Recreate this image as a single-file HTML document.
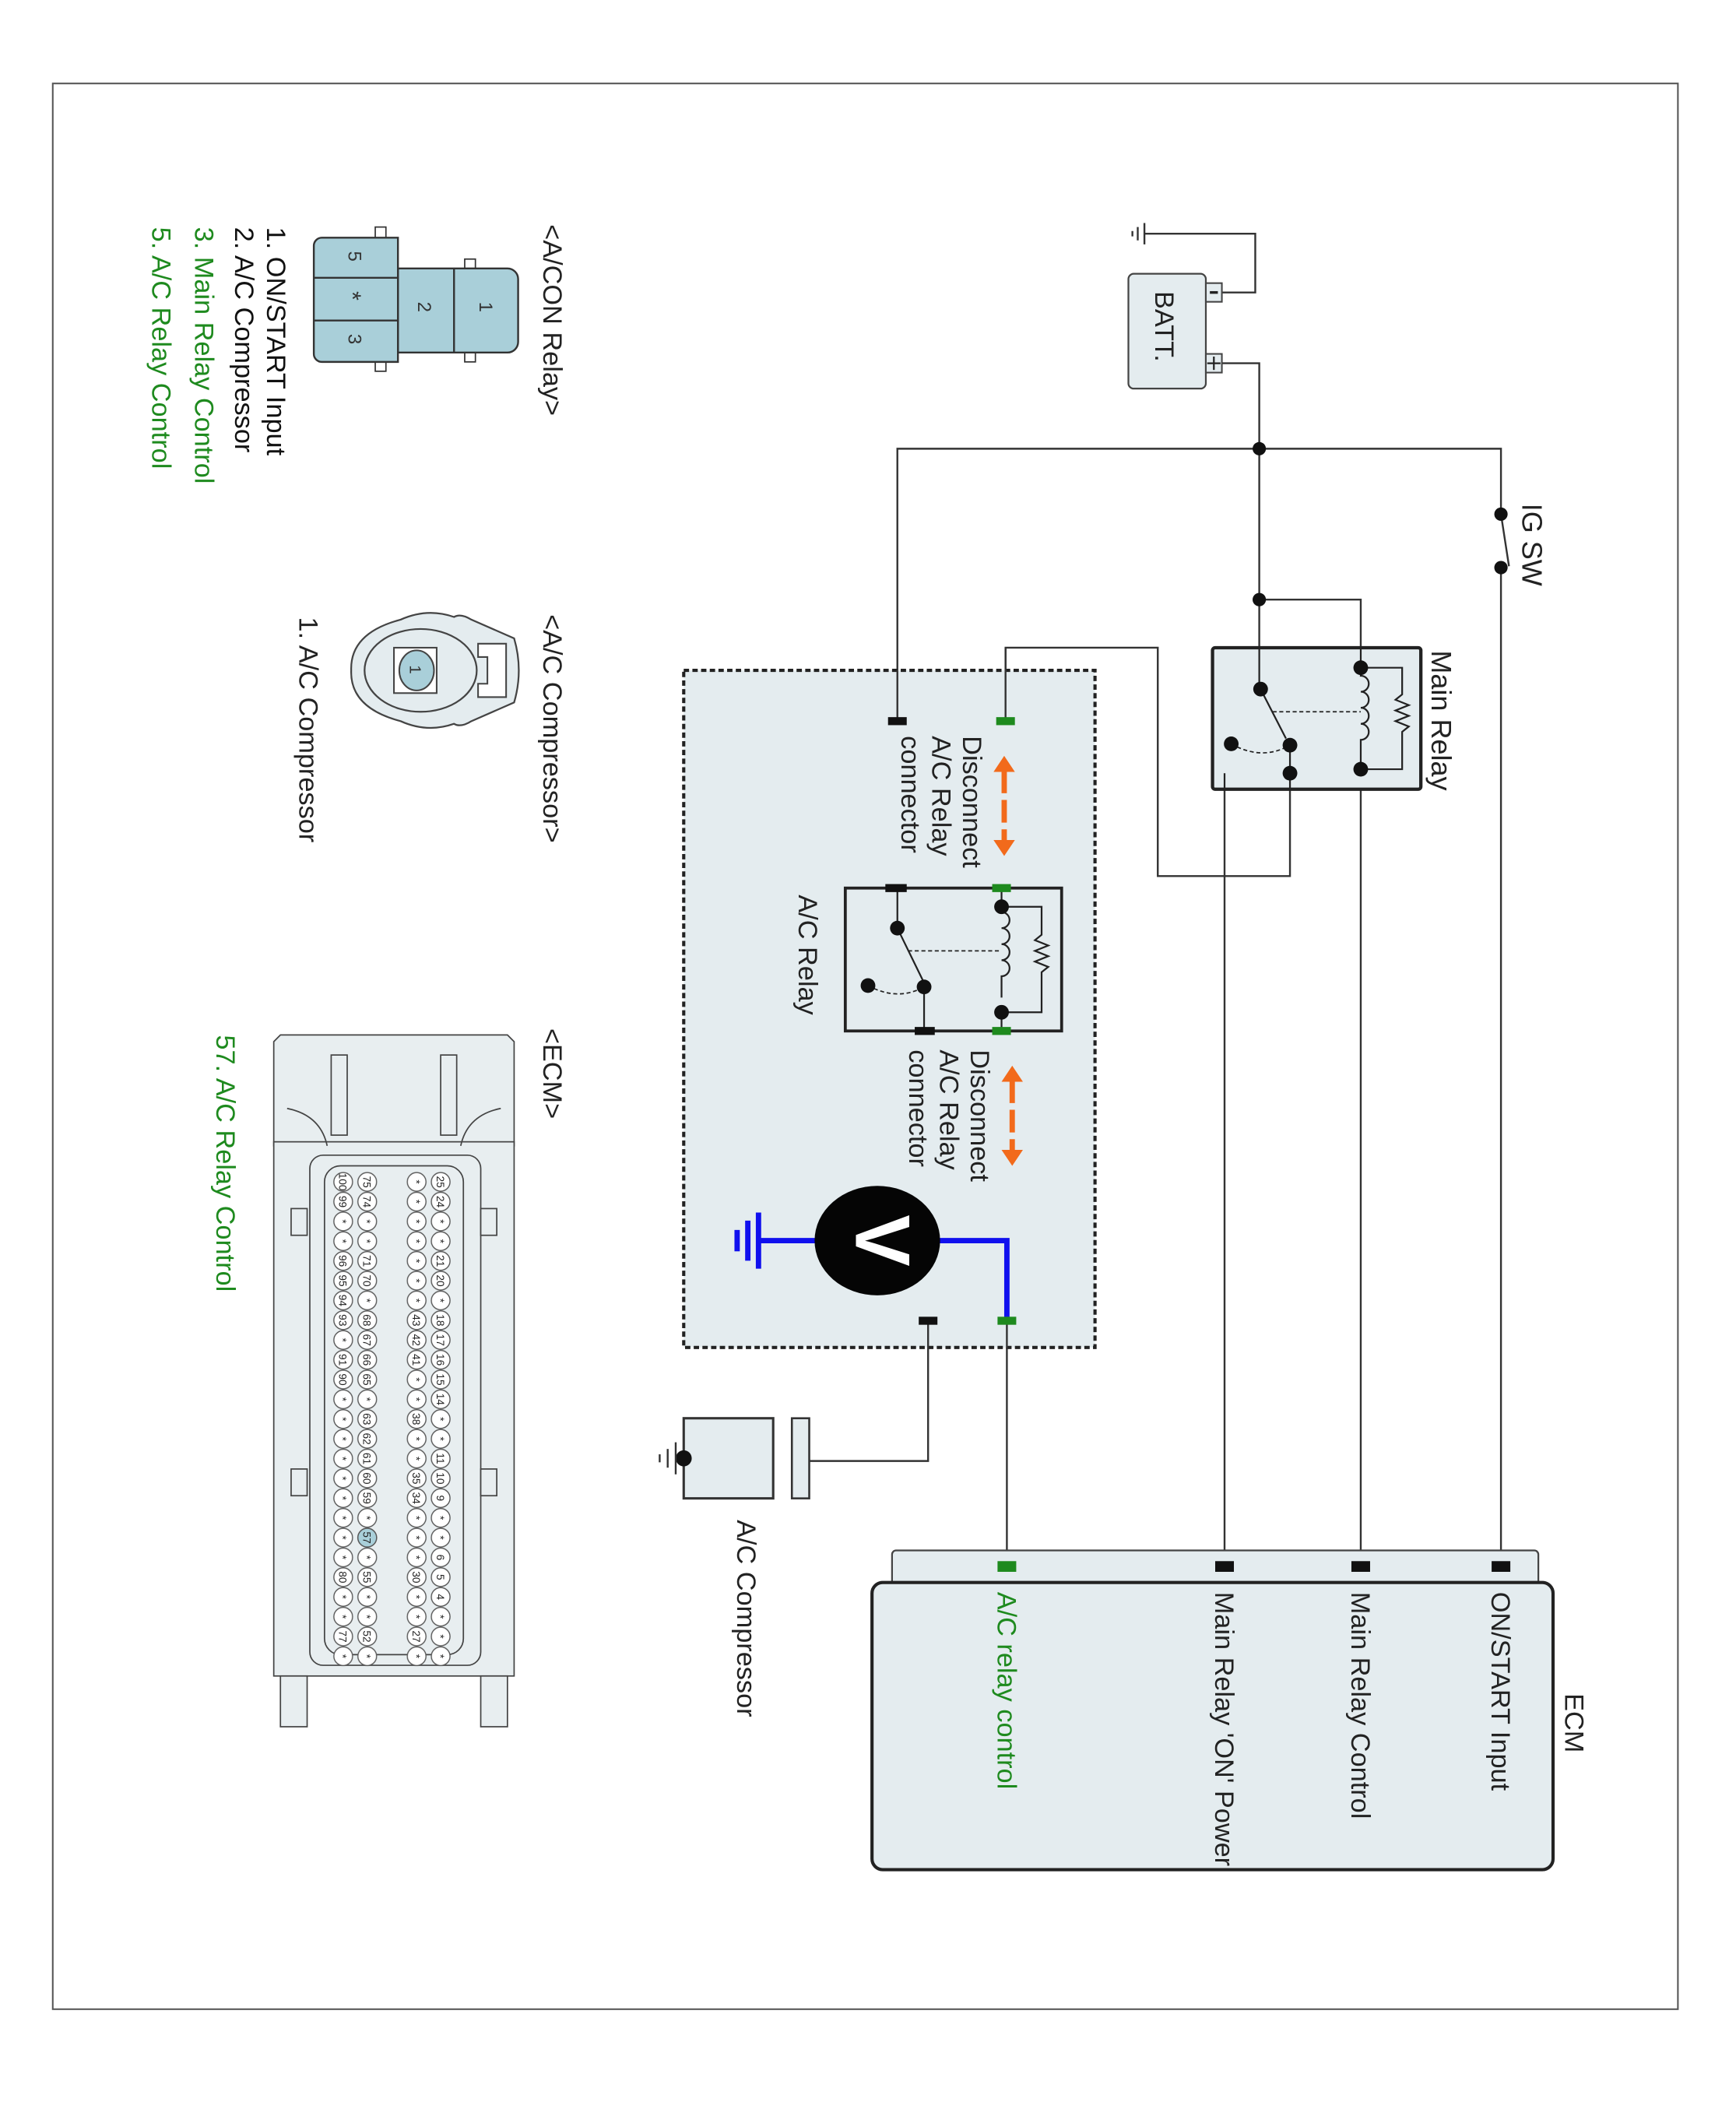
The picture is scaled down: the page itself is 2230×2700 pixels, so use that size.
<!DOCTYPE html>
<html><head><meta charset="utf-8"><style>
html,body{margin:0;padding:0;background:#fff;}
svg{display:block;}
text{font-family:"Liberation Sans Narrow","Liberation Sans",sans-serif;}
</style></head><body>
<svg width="2230" height="2700" viewBox="0 0 1300 1574" xmlns="http://www.w3.org/2000/svg">
<defs>
<pattern id="pa" width="40" height="14.8" patternUnits="userSpaceOnUse" patternTransform="translate(310,877.6)"><circle cx="20" cy="7.4" r="7" fill="#fff" stroke="#555" stroke-width="0.8"/></pattern>
<pattern id="pb" width="40" height="14.8" patternUnits="userSpaceOnUse" patternTransform="translate(292,877.6)"><circle cx="20" cy="7.4" r="7" fill="#fff" stroke="#555" stroke-width="0.8"/></pattern>
<pattern id="pc" width="40" height="14.8" patternUnits="userSpaceOnUse" patternTransform="translate(255,877.6)"><circle cx="20" cy="7.4" r="7" fill="#fff" stroke="#555" stroke-width="0.8"/></pattern>
<pattern id="pd" width="40" height="14.8" patternUnits="userSpaceOnUse" patternTransform="translate(237,877.6)"><circle cx="20" cy="7.4" r="7" fill="#fff" stroke="#555" stroke-width="0.8"/></pattern>
</defs>
<rect x="0" y="0" width="1300" height="1574" fill="#fff"/>
<rect x="39.5" y="62.5" width="1217" height="1442" fill="none" stroke="#555" stroke-width="1.2"/>

<g fill="none" stroke="#333" stroke-width="1.4">
<polyline points="915,219 940,219 940,175 857,175"/>
<polyline points="915,272 943,272 943,516"/>
<polyline points="672,540 672,336 1124,336 1124,385"/>
<polyline points="1124,425 1124,1170"/>
<polyline points="943,449 1019,449 1019,500"/>
<polyline points="1019,576 1019,1170"/>
<polyline points="966,558 966,656 867,656 867,485 753,485 753,540"/>
<polyline points="966,579 917,579 917,1170"/>
<polyline points="754,989 754,1170"/>
<polyline points="695,989 695,1094 606,1094"/>
<line x1="1124" y1="385" x2="1130" y2="424"/>
</g>
<g stroke="#333" stroke-width="1.4">
<line x1="857" y1="167" x2="857" y2="183"/>
<line x1="852" y1="170" x2="852" y2="180"/>
<line x1="848" y1="173" x2="848" y2="177"/>
</g>
<rect x="845" y="205" width="58" height="86" rx="4" fill="#e4ecef" stroke="#444" stroke-width="1.3"/>
<rect x="903" y="212" width="12" height="14" fill="#e4ecef" stroke="#444" stroke-width="1.2"/>
<rect x="903" y="265" width="12" height="14" fill="#e4ecef" stroke="#444" stroke-width="1.2"/>
<line x1="906" y1="219" x2="912" y2="219" stroke="#222" stroke-width="2"/>
<line x1="904" y1="272" x2="914" y2="272" stroke="#222" stroke-width="1.3"/>
<line x1="909" y1="267" x2="909" y2="277" stroke="#222" stroke-width="1.3"/>
<text transform="translate(865,218) rotate(90)" font-size="20" fill="#222">BATT.</text>

<g fill="#111">
<circle cx="943" cy="336" r="5"/><circle cx="943" cy="449" r="5"/>
<circle cx="1124" cy="385" r="5"/><circle cx="1124" cy="425" r="5"/>
</g>
<text transform="translate(1140,377) rotate(90)" font-size="21" fill="#222">IG SW</text>

<rect x="908" y="485" width="156" height="106" rx="2" fill="#e4ecef" stroke="#222" stroke-width="2.5"/>
<g fill="none" stroke="#222" stroke-width="1.3">
<line x1="943" y1="485" x2="943" y2="516"/>
<line x1="944" y1="516" x2="963" y2="553"/>
<line x1="953" y1="533" x2="1019" y2="533" stroke-dasharray="3,2" stroke-width="1"/>
<path d="M922,557 Q945,570 966,558" stroke-dasharray="3,2" stroke-width="1"/>
<line x1="966" y1="558" x2="966" y2="591"/>
<path d="M1019,500 v6 a6,6 0 0 1 0,12 a6,6 0 0 1 0,12 a6,6 0 0 1 0,12 a6,6 0 0 1 0,12 v22"/>
<polyline points="1019,500 1050,500 1050,520 1045,524 1055,528 1045,532 1055,536 1045,540 1055,544 1050,548 1050,576 1019,576"/>
<line x1="1019" y1="485" x2="1019" y2="500"/>
<line x1="917" y1="579" x2="917" y2="591"/>
</g>
<g fill="#111">
<circle cx="944" cy="516" r="5.5"/><circle cx="966" cy="558" r="5.5"/><circle cx="922" cy="557" r="5.5"/>
<circle cx="966" cy="579" r="5.5"/><circle cx="1019" cy="500" r="5.5"/><circle cx="1019" cy="576" r="5.5"/>
</g>
<text transform="translate(1072,487) rotate(90)" font-size="21" fill="#222">Main Relay</text>

<rect x="512" y="502" width="308" height="507" fill="#e4ecef" stroke="#222" stroke-width="2.4" stroke-dasharray="4,2.5"/>
<g stroke="#333" stroke-width="1.4">
<line x1="672" y1="502" x2="672" y2="540"/><line x1="753" y1="485" x2="753" y2="540"/>
<line x1="695" y1="989" x2="695" y2="1010"/><line x1="754" y1="989" x2="754" y2="1010"/>
</g>
<rect x="665" y="537" width="14" height="6" fill="#111"/>
<rect x="746" y="537" width="14" height="6" fill="#1e8a1e"/>
<g fill="#f26a1b" stroke="#f26a1b">
<polygon points="752,566 744,578 760,578" stroke="none"/>
<line x1="752" y1="577" x2="752" y2="630" stroke-width="4" stroke-dasharray="17,5"/>
<polygon points="752,641 744,629 760,629" stroke="none"/>
<polygon points="758,798 750,810 766,810" stroke="none"/>
<line x1="758" y1="809" x2="758" y2="862" stroke-width="4" stroke-dasharray="17,5"/>
<polygon points="758,873 750,861 766,861" stroke="none"/>
</g>
<g font-size="20" fill="#222">
<text transform="translate(721,551) rotate(90)">Disconnect</text>
<text transform="translate(698,551) rotate(90)">A/C Relay</text>
<text transform="translate(675,551) rotate(90)">connector</text>
<text transform="translate(727,786) rotate(90)">Disconnect</text>
<text transform="translate(704,786) rotate(90)">A/C Relay</text>
<text transform="translate(681,786) rotate(90)">connector</text>
<text transform="translate(598,670) rotate(90)">A/C Relay</text>
</g>
<rect x="633" y="665" width="162" height="107" fill="#e4ecef" stroke="#222" stroke-width="2.2"/>
<g fill="none" stroke="#222" stroke-width="1.3">
<line x1="672" y1="665" x2="672" y2="695"/>
<line x1="672" y1="695" x2="692" y2="736"/>
<line x1="680" y1="712" x2="750" y2="712" stroke-dasharray="3,2" stroke-width="1"/>
<path d="M650,738 Q672,750 692,739" stroke-dasharray="3,2" stroke-width="1"/>
<line x1="692" y1="739" x2="692" y2="772"/>
<path d="M750,679 v4 a6,6 0 0 1 0,12 a6,6 0 0 1 0,12 a6,6 0 0 1 0,12 a6,6 0 0 1 0,12 v16"/>
<polyline points="750,679 780,679 780,700 775,704 785,708 775,712 785,716 775,720 785,724 780,728 780,758 750,758"/>
<line x1="750" y1="665" x2="750" y2="679"/><line x1="750" y1="758" x2="750" y2="772"/>
</g>
<g fill="#111">
<circle cx="672" cy="695" r="5.5"/><circle cx="692" cy="739" r="5.5"/><circle cx="650" cy="738" r="5.5"/>
<circle cx="750" cy="679" r="5.5"/><circle cx="750" cy="758" r="5.5"/>
</g>
<rect x="663" y="662" width="16" height="6" fill="#111"/>
<rect x="743" y="662" width="14" height="6" fill="#1e8a1e"/>
<rect x="685" y="769" width="15" height="6" fill="#111"/>
<rect x="743" y="769" width="14" height="6" fill="#1e8a1e"/>

<g fill="none" stroke="#1010ee" stroke-width="4">
<polyline points="700,929 754,929 754,989"/>
<line x1="614" y1="929" x2="568" y2="929"/>
<line x1="568" y1="908" x2="568" y2="950"/>
<line x1="560" y1="914" x2="560" y2="944"/>
<line x1="552" y1="921" x2="552" y2="937"/>
</g>
<ellipse cx="657" cy="929" rx="47" ry="41" fill="#050505"/>
<text transform="translate(641,929) rotate(90)" font-size="58" font-weight="bold" fill="#fff" text-anchor="middle" font-family="Liberation Sans,sans-serif">V</text>
<rect x="688" y="986" width="14" height="6" fill="#111"/>
<rect x="747" y="986" width="14" height="6" fill="#1e8a1e"/>

<rect x="593" y="1062" width="13" height="60" fill="#e4ecef" stroke="#333" stroke-width="1.5"/>
<rect x="512" y="1062" width="67" height="60" fill="#e4ecef" stroke="#333" stroke-width="1.8"/>
<circle cx="512" cy="1092" r="6" fill="#111"/>
<g stroke="#333" stroke-width="1.4">
<line x1="506" y1="1080" x2="506" y2="1104"/>
<line x1="500" y1="1085" x2="500" y2="1099"/>
<line x1="494" y1="1089" x2="494" y2="1095"/>
</g>
<text transform="translate(552,1138) rotate(90)" font-size="20" fill="#222" font-family="Liberation Sans,sans-serif">A/C Compressor</text>

<path d="M668,1185 V1164 a3,3 0 0 1 3,-3 H1149 a3,3 0 0 1 3,3 V1185" fill="#e4ecef" stroke="#444" stroke-width="1.3"/>
<rect x="653" y="1185" width="510" height="215" rx="8" fill="#e4ecef" stroke="#222" stroke-width="2.4"/>
<rect x="1117" y="1169" width="14" height="8" fill="#111"/>
<rect x="1012" y="1169" width="14" height="8" fill="#111"/>
<rect x="910" y="1169" width="14" height="8" fill="#111"/>
<rect x="747" y="1169" width="14" height="8" fill="#1e8a1e"/>
<g font-size="20" font-family="Liberation Sans,sans-serif" fill="#222">
<text transform="translate(1117,1192) rotate(90)">ON/START Input</text>
<text transform="translate(1012,1192) rotate(90)">Main Relay Control</text>
<text transform="translate(910,1192) rotate(90)">Main Relay 'ON' Power</text>
<text transform="translate(747,1192) rotate(90)" fill="#1e8a1e">A/C relay control</text>
<text transform="translate(1172,1268) rotate(90)">ECM</text>
</g>

<text transform="translate(407,168) rotate(90)" font-size="20" fill="#222">&lt;A/CON Relay&gt;</text>
<rect x="348" y="194" width="8" height="7" fill="#fff" stroke="#333"/>
<rect x="348" y="264" width="8" height="7" fill="#fff" stroke="#333"/>
<rect x="281" y="170" width="8" height="8" fill="#fff" stroke="#333"/>
<rect x="281" y="270" width="8" height="8" fill="#fff" stroke="#333"/>
<path d="M298,201 H380 a8,8 0 0 1 8,8 V256 a8,8 0 0 1 -8,8 H298 Z" fill="#a9cfd9" stroke="#333" stroke-width="1.4"/>
<line x1="340" y1="201" x2="340" y2="264" stroke="#333" stroke-width="1.4"/>
<path d="M298,178 V271 H241 a6,6 0 0 1 -6,-6 V184 a6,6 0 0 1 6,-6 Z" fill="#a9cfd9" stroke="#333" stroke-width="1.4"/>
<line x1="235" y1="208" x2="298" y2="208" stroke="#333" stroke-width="1.4"/>
<line x1="235" y1="240" x2="298" y2="240" stroke="#333" stroke-width="1.4"/>
<g font-size="14" fill="#333" font-family="Liberation Sans,sans-serif">
<text transform="translate(359,226) rotate(90)">1</text>
<text transform="translate(313,226) rotate(90)">2</text>
<text transform="translate(261,188) rotate(90)">5</text>
<text transform="translate(258,218) rotate(90)" font-size="18">*</text>
<text transform="translate(261,250) rotate(90)">3</text>
</g>
<g font-size="20">
<text transform="translate(200,170) rotate(90)" fill="#111">1. ON/START Input</text>
<text transform="translate(176,170) rotate(90)" fill="#111">2. A/C Compressor</text>
<text transform="translate(146,170) rotate(90)" fill="#1e8a1e">3. Main Relay Control</text>
<text transform="translate(114,170) rotate(90)" fill="#1e8a1e">5. A/C Relay Control</text>
</g>

<text transform="translate(407,460) rotate(90)" font-size="20" fill="#222">&lt;A/C Compressor&gt;</text>
<path d="M385,478 Q392,502 385,526 L353,540 Q345,545 340,542 Q320,549 300,540 Q262,530 263,502 Q262,474 300,464 Q320,455 340,462 Q345,459 353,464 Z" fill="#e4ecef" stroke="#444" stroke-width="1.3"/>
<ellipse cx="315" cy="502" rx="42" ry="31" fill="none" stroke="#444" stroke-width="1.3"/>
<path d="M379,482 H358 V492 H365 V512 H358 V522 H379 Z" fill="#fff" stroke="#444" stroke-width="1.2"/>
<rect x="295" y="485" width="32" height="34" fill="#fff" stroke="#444" stroke-width="1.2"/>
<ellipse cx="312" cy="502" rx="13" ry="15" fill="#a9cfd9" stroke="#444" stroke-width="1.2"/>
<text transform="translate(307,498) rotate(90)" font-size="12" fill="#333" font-family="Liberation Sans,sans-serif">1</text>
<text transform="translate(224,462) rotate(90)" font-size="20" fill="#222">1. A/C Compressor</text>

<text transform="translate(407,770) rotate(90)" font-size="20" fill="#222">&lt;ECM&gt;</text>
<text transform="translate(162,775) rotate(90)" font-size="20" fill="#1e8a1e">57. A/C Relay Control</text>
<g fill="#e8eef0" stroke="#444" stroke-width="1">
<path d="M205,780 L210,775 H380 L385,780 V858 H205 Z"/>
<rect x="205" y="855" width="180" height="400"/>
<rect x="210" y="1255" width="20" height="38"/>
<rect x="360" y="1255" width="20" height="38"/>
<rect x="232" y="865" width="128" height="382" rx="10"/>
<rect x="243" y="873" width="104" height="366" rx="12"/>
<rect x="248" y="790" width="12" height="60"/>
<rect x="330" y="790" width="12" height="60"/>
<rect x="360" y="905" width="12" height="20"/>
<rect x="360" y="1100" width="12" height="20"/>
<rect x="218" y="905" width="12" height="20"/>
<rect x="218" y="1100" width="12" height="20"/>
<path d="M345,858 Q350,835 375,830" fill="none"/>
<path d="M245,858 Q240,835 215,830" fill="none"/>
</g>
<rect x="321" y="877.6" width="18" height="370" fill="url(#pa)"/>
<rect x="303" y="877.6" width="18" height="370" fill="url(#pb)"/>
<rect x="266" y="877.6" width="18" height="370" fill="url(#pc)"/>
<rect x="248" y="877.6" width="18" height="370" fill="url(#pd)"/>
<circle cx="275" cy="1151.4" r="7" fill="#a9cfd9" stroke="#555" stroke-width="0.8"/>
<g font-size="8" font-family="Liberation Sans,sans-serif" fill="#222" text-anchor="middle">
<text transform="translate(327,885) rotate(90)"><tspan x="0">25</tspan><tspan x="14.8">24</tspan><tspan x="29.6">*</tspan><tspan x="44.4">*</tspan><tspan x="59.2">21</tspan><tspan x="74">20</tspan><tspan x="88.8">*</tspan><tspan x="103.6">18</tspan><tspan x="118.4">17</tspan><tspan x="133.2">16</tspan><tspan x="148">15</tspan><tspan x="162.8">14</tspan><tspan x="177.6">*</tspan><tspan x="192.4">*</tspan><tspan x="207.2">11</tspan><tspan x="222">10</tspan><tspan x="236.8">9</tspan><tspan x="251.6">*</tspan><tspan x="266.4">*</tspan><tspan x="281.2">6</tspan><tspan x="296">5</tspan><tspan x="310.8">4</tspan><tspan x="325.6">*</tspan><tspan x="340.4">*</tspan><tspan x="355.2">*</tspan></text>
<text transform="translate(309,885) rotate(90)"><tspan x="0">*</tspan><tspan x="14.8">*</tspan><tspan x="29.6">*</tspan><tspan x="44.4">*</tspan><tspan x="59.2">*</tspan><tspan x="74">*</tspan><tspan x="88.8">*</tspan><tspan x="103.6">43</tspan><tspan x="118.4">42</tspan><tspan x="133.2">41</tspan><tspan x="148">*</tspan><tspan x="162.8">*</tspan><tspan x="177.6">38</tspan><tspan x="192.4">*</tspan><tspan x="207.2">*</tspan><tspan x="222">35</tspan><tspan x="236.8">34</tspan><tspan x="251.6">*</tspan><tspan x="266.4">*</tspan><tspan x="281.2">*</tspan><tspan x="296">30</tspan><tspan x="310.8">*</tspan><tspan x="325.6">*</tspan><tspan x="340.4">27</tspan><tspan x="355.2">*</tspan></text>
<text transform="translate(272,885) rotate(90)"><tspan x="0">75</tspan><tspan x="14.8">74</tspan><tspan x="29.6">*</tspan><tspan x="44.4">*</tspan><tspan x="59.2">71</tspan><tspan x="74">70</tspan><tspan x="88.8">*</tspan><tspan x="103.6">68</tspan><tspan x="118.4">67</tspan><tspan x="133.2">66</tspan><tspan x="148">65</tspan><tspan x="162.8">*</tspan><tspan x="177.6">63</tspan><tspan x="192.4">62</tspan><tspan x="207.2">61</tspan><tspan x="222">60</tspan><tspan x="236.8">59</tspan><tspan x="251.6">*</tspan><tspan x="266.4">57</tspan><tspan x="281.2">*</tspan><tspan x="296">55</tspan><tspan x="310.8">*</tspan><tspan x="325.6">*</tspan><tspan x="340.4">52</tspan><tspan x="355.2">*</tspan></text>
<text transform="translate(254,885) rotate(90)"><tspan x="0">100</tspan><tspan x="14.8">99</tspan><tspan x="29.6">*</tspan><tspan x="44.4">*</tspan><tspan x="59.2">96</tspan><tspan x="74">95</tspan><tspan x="88.8">94</tspan><tspan x="103.6">93</tspan><tspan x="118.4">*</tspan><tspan x="133.2">91</tspan><tspan x="148">90</tspan><tspan x="162.8">*</tspan><tspan x="177.6">*</tspan><tspan x="192.4">*</tspan><tspan x="207.2">*</tspan><tspan x="222">*</tspan><tspan x="236.8">*</tspan><tspan x="251.6">*</tspan><tspan x="266.4">*</tspan><tspan x="281.2">*</tspan><tspan x="296">80</tspan><tspan x="310.8">*</tspan><tspan x="325.6">*</tspan><tspan x="340.4">77</tspan><tspan x="355.2">*</tspan></text>
</g>
</svg>
</body></html>
